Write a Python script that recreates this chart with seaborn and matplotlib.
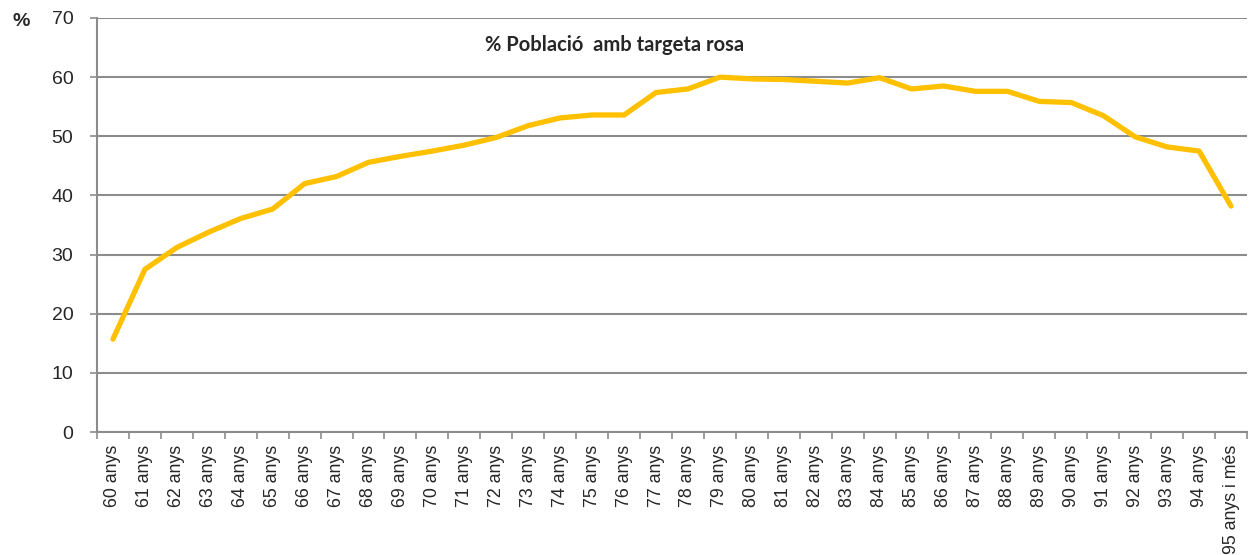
import numpy as np
import pandas as pd
import seaborn as sns
import matplotlib
matplotlib.use("Agg")
import matplotlib.pyplot as plt
from matplotlib.ticker import FixedLocator

# Edats (categories de l'eix X)
edats = [f"{a} anys" for a in range(60, 95)] + ["95 anys i més"]

# % població amb targeta rosa
percentatge = [15.7, 27.5, 31.2, 33.8, 36.1, 37.7, 42.0, 43.2, 45.6, 46.6,
               47.5, 48.5, 49.8, 51.8, 53.1, 53.6, 53.6, 57.4, 58.0, 60.0,
               59.7, 59.6, 59.3, 59.0, 59.9, 58.0, 58.5, 57.6, 57.6, 55.9,
               55.7, 53.5, 49.9, 48.2, 47.5, 38.2]

y_ticks = [0, 10, 20, 30, 40, 50, 60, 70]

df = pd.DataFrame({"edat": edats, "pct": percentatge})

sns.set_style("white")
plt.rcParams['font.family'] = ['Liberation Sans', 'DejaVu Sans']

fig = plt.figure(figsize=(12.53, 5.55), dpi=100)
ax = fig.add_axes([0.0774, 0.2216, 0.9178, 0.746])

sns.lineplot(data=df, x="edat", y="pct", sort=False, color="#FFC000",
             linewidth=3.8, ax=ax, solid_capstyle="round", solid_joinstyle="round")

ax.set_xlim(-0.5, len(edats) - 0.5)
ax.set_ylim(0, 70)
ax.set_yticks(y_ticks)
ax.yaxis.grid(True, color="#8c8c8c", linewidth=1.5)
ax.set_axisbelow(True)
ax.set_xlabel("")
ax.set_ylabel("")

ax.set_xticks(range(len(edats)))
ax.set_xticklabels(edats, rotation=90, fontsize=12.8)
ax.xaxis.set_minor_locator(FixedLocator(np.arange(-0.5, len(edats), 1.0)))
ax.tick_params(axis="x", which="major", length=0, pad=9)
ax.tick_params(axis="x", which="minor", length=5, width=1.2, color="#8c8c8c", bottom=True)
ax.tick_params(axis="y", length=5, width=1.2, color="#8c8c8c", labelsize=14, pad=12, left=True)

for side in ["top", "right"]:
    ax.spines[side].set_visible(False)
for side in ["left", "bottom"]:
    ax.spines[side].set_color("#8c8c8c")
    ax.spines[side].set_linewidth(1.5)

ax.text(0.45, 0.935, "% Població  amb targeta rosa", transform=ax.transAxes,
        ha="center", va="center", fontsize=14.5, fontweight="bold", family="Lato")
fig.text(0.017, 0.962, "%", fontsize=14, fontweight="bold", va="center", ha="center")

fig.savefig("out.png", dpi=100)
